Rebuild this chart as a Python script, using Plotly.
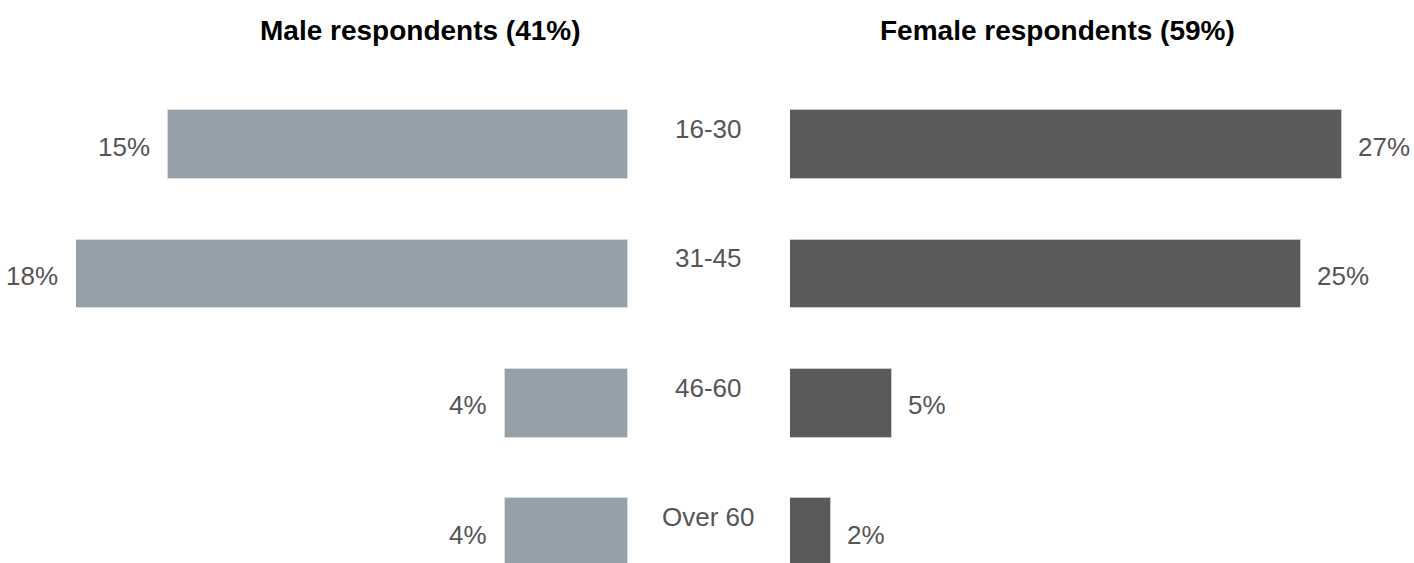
import plotly.graph_objects as go

categories = ["16-30", "31-45", "46-60", "Over 60"]
male = [15, 18, 4, 4]
female = [27, 25, 5, 2]
male_title = "Male respondents (41%)"
female_title = "Female respondents (59%)"

FONT = "Liberation Sans Narrow, Arial Narrow, Liberation Sans, Arial, sans-serif"
MALE_C = "#96a0a8"
FEMALE_C = "#595a5c"
TEXT_C = "#555555"

ypos = list(range(len(categories)))

fig = go.Figure()
fig.add_trace(go.Bar(
    x=male, y=ypos, orientation="h", xaxis="x", yaxis="y",
    marker=dict(color=MALE_C, line=dict(color="#d8dde1", width=1)),
    width=0.533, hoverinfo="skip", showlegend=False,
))
fig.add_trace(go.Bar(
    x=female, y=ypos, orientation="h", xaxis="x2", yaxis="y",
    marker=dict(color=FEMALE_C, line=dict(color="#c9cacb", width=1)),
    width=0.533, hoverinfo="skip", showlegend=False,
))

annotations = []
for i, (c, m, f) in enumerate(zip(categories, male, female)):
    annotations.append(dict(x=m, y=i, xref="x", yref="y", text=f"{m}%",
                            showarrow=False, xanchor="right", yanchor="middle",
                            xshift=-16, yshift=-2,
                            font=dict(family=FONT, size=26, color=TEXT_C)))
    annotations.append(dict(x=f, y=i, xref="x2", yref="y", text=f"{f}%",
                            showarrow=False, xanchor="left", yanchor="middle",
                            xshift=14, yshift=-2,
                            font=dict(family=FONT, size=26, color=TEXT_C)))
    annotations.append(dict(x=0.5008, y=i - 0.12, xref="paper", yref="y", text=c,
                            showarrow=False, xanchor="center", yanchor="middle",
                            font=dict(family=FONT, size=26, color=TEXT_C)))

annotations.append(dict(x=0.2974, y=1.1035, xref="paper", yref="paper", text=f"<b>{male_title}</b>",
                        showarrow=False, xanchor="center", yanchor="middle",
                        font=dict(family=FONT, size=28, color="#000000")))
annotations.append(dict(x=0.748, y=1.1035, xref="paper", yref="paper", text=f"<b>{female_title}</b>",
                        showarrow=False, xanchor="center", yanchor="middle",
                        font=dict(family=FONT, size=28, color="#000000")))

fig.update_layout(
    width=1414, height=563,
    margin=dict(l=0, r=0, t=80, b=0, pad=0),
    plot_bgcolor="white", paper_bgcolor="white",
    bargap=0,
    xaxis=dict(domain=[76 / 1414, 628 / 1414], range=[max(male), 0], visible=False, fixedrange=True),
    xaxis2=dict(domain=[790 / 1414, 1342 / 1414], range=[0, max(female)], visible=False, fixedrange=True),
    yaxis=dict(range=[3.235, -0.5], visible=False, fixedrange=True),
    annotations=annotations,
)

fig.write_html("out.html")
